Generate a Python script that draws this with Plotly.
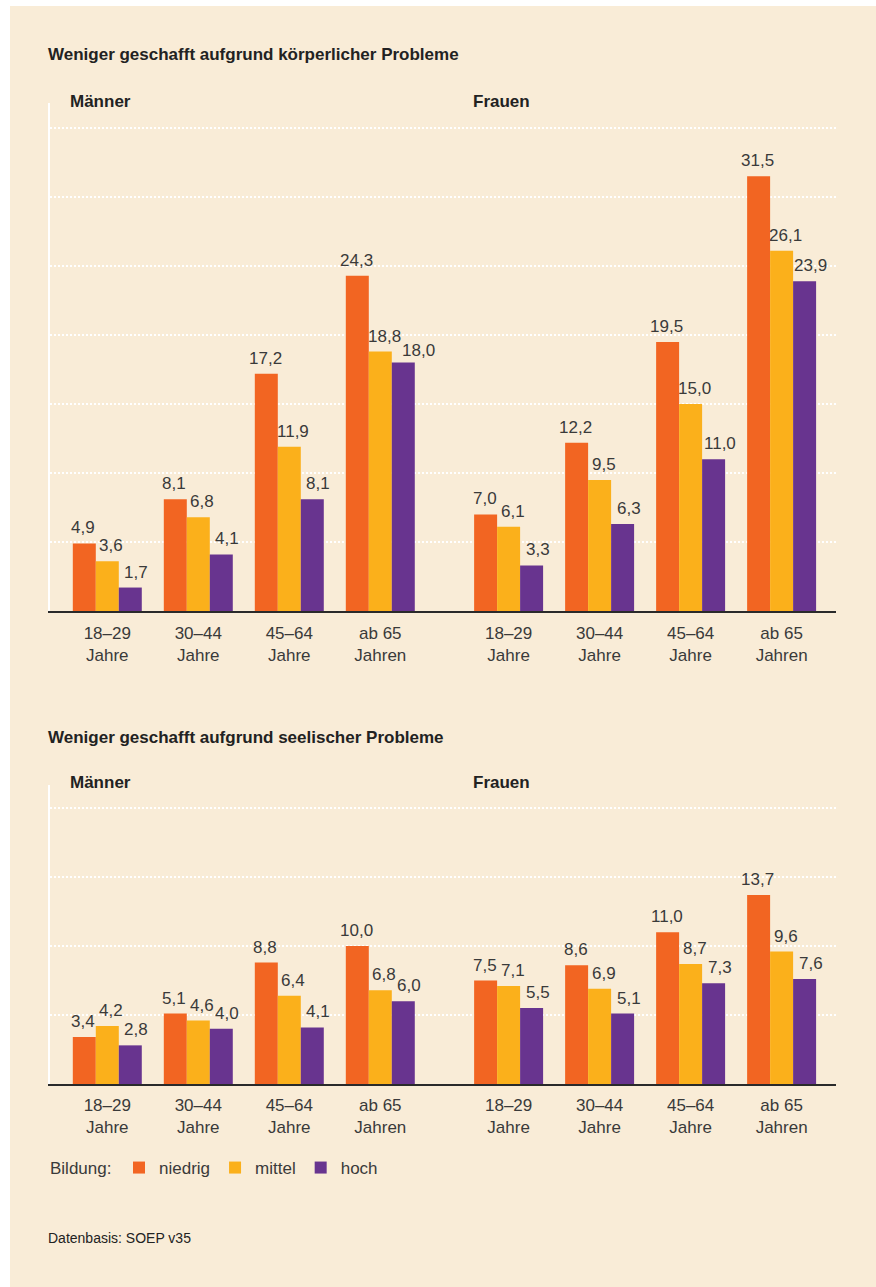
import plotly.graph_objects as go

# ---- data ----
age_groups = ["18–29<br>Jahre", "30–44<br>Jahre", "45–64<br>Jahre", "ab 65<br>Jahren"]
series_names = ["niedrig", "mittel", "hoch"]

# Panel 1: körperliche Probleme
koerper_maenner_niedrig = [4.9, 8.1, 17.2, 24.3]
koerper_maenner_mittel = [3.6, 6.8, 11.9, 18.8]
koerper_maenner_hoch = [1.7, 4.1, 8.1, 18.0]
koerper_frauen_niedrig = [7.0, 12.2, 19.5, 31.5]
koerper_frauen_mittel = [6.1, 9.5, 15.0, 26.1]
koerper_frauen_hoch = [3.3, 6.3, 11.0, 23.9]

# Panel 2: seelische Probleme
seele_maenner_niedrig = [3.4, 5.1, 8.8, 10.0]
seele_maenner_mittel = [4.2, 4.6, 6.4, 6.8]
seele_maenner_hoch = [2.8, 4.0, 4.1, 6.0]
seele_frauen_niedrig = [7.5, 8.6, 11.0, 13.7]
seele_frauen_mittel = [7.1, 6.9, 8.7, 9.6]
seele_frauen_hoch = [5.5, 5.1, 7.3, 7.6]

titles = ["Weniger geschafft aufgrund körperlicher Probleme",
          "Weniger geschafft aufgrund seelischer Probleme"]
sex_labels = ["Männer", "Frauen"]
legend_title = "Bildung:"
source = "Datenbasis: SOEP v35"

# ---- style ----
colors = ["#F26522", "#FBB01B", "#68348F"]
BG = "#F9ECD7"
TXT = "#3a3a3a"
FONT = "Liberation Sans, Arial, sans-serif"

W, H = 876, 1287

GROUP_GAP = 0.41
positions = [i for i in range(4)] + [4 + GROUP_GAP + i for i in range(4)]
BARGAP = 0.242
bar_w = (1 - BARGAP) / 3

panels = [
    [koerper_maenner_niedrig + koerper_frauen_niedrig,
     koerper_maenner_mittel + koerper_frauen_mittel,
     koerper_maenner_hoch + koerper_frauen_hoch],
    [seele_maenner_niedrig + seele_frauen_niedrig,
     seele_maenner_mittel + seele_frauen_mittel,
     seele_maenner_hoch + seele_frauen_hoch],
]

# label nudges (pixels) to keep neighbouring value labels apart
series_dx = [-1, 4, 6]
special_nudge = {(0, 2, 3): (9, -3)}  # (panel, series, position index)

# pixel layout
px_per_unit = 13.8
x_left, x_right = 50, 836
panel_px = [(103, 611), (785, 1084)]
title_y = [55, 737]
sex_y = [101, 782]
sex_x = [68, 471]

def pxx(p):
    return p / W

def pxy(p):
    return 1 - p / H

fig = go.Figure()
annotations = []
for pi, series in enumerate(panels):
    xa = "x" if pi == 0 else "x2"
    ya = "y" if pi == 0 else "y2"
    for si, vals in enumerate(series):
        fig.add_trace(go.Bar(
            x=positions, y=vals, name=series_names[si],
            marker=dict(color=colors[si], line=dict(width=0)),
            xaxis=xa, yaxis=ya, showlegend=(pi == 0),
            offsetgroup=str(si), hoverinfo="skip",
        ))
        for k, (xp, v) in enumerate(zip(positions, vals)):
            dx, dy = special_nudge.get((pi, si, k), (0, 0))
            annotations.append(dict(
                x=xp + (si - 1) * bar_w, y=v, xref=xa, yref=ya,
                text=f"{v:.1f}".replace(".", ","), showarrow=False,
                yanchor="bottom", xanchor="center",
                xshift=series_dx[si] + dx, yshift=4 + dy,
                font=dict(size=17, color=TXT, family=FONT)))
    annotations.append(dict(
        x=pxx(46), y=pxy(title_y[pi]), xref="paper", yref="paper",
        text=f"<b>{titles[pi]}</b>", showarrow=False, xanchor="left",
        yanchor="middle", font=dict(size=17, color="#222", family=FONT)))
    for k in range(2):
        annotations.append(dict(
            x=pxx(sex_x[k]), y=pxy(sex_y[pi]), xref="paper", yref="paper",
            text=f"<b>{sex_labels[k]}</b>", showarrow=False, xanchor="left",
            yanchor="middle", font=dict(size=17, color="#222", family=FONT)))

annotations.append(dict(
    x=pxx(48), y=pxy(1168), xref="paper", yref="paper", text=legend_title,
    showarrow=False, xanchor="left", yanchor="middle",
    font=dict(size=17, color=TXT, family=FONT)))
annotations.append(dict(
    x=pxx(46), y=pxy(1238), xref="paper", yref="paper", text=source,
    showarrow=False, xanchor="left", yanchor="middle",
    font=dict(size=14, color="#222", family=FONT)))

xdom = [pxx(x_left), pxx(x_right)]
rng_x = [(x_left - 107.3) / 91.0, (x_right - 107.3) / 91.0]

def xaxis_cfg(anchor, standoff):
    return dict(domain=xdom, range=rng_x, anchor=anchor,
                tickvals=positions, ticktext=age_groups * 2,
                showgrid=False, zeroline=False, showline=True,
                linecolor="#2a2a2a", linewidth=1.5, ticks="",
                ticklabelstandoff=standoff,
                tickfont=dict(size=17, color=TXT, family=FONT),
                fixedrange=True)

def yaxis_cfg(pi, anchor):
    top, bot = panel_px[pi]
    return dict(domain=[pxy(bot), pxy(top)], range=[0, (bot - top) / px_per_unit],
                anchor=anchor, showticklabels=False, ticks="",
                showgrid=True, gridcolor="white", gridwidth=2,
                griddash="2px,2px", dtick=5, zeroline=False,
                showline=True, linecolor="white", linewidth=2,
                fixedrange=True)

fig.update_layout(
    width=W, height=H,
    margin=dict(l=0, r=0, t=0, b=0),
    paper_bgcolor="white", plot_bgcolor="rgba(0,0,0,0)",
    barmode="group", bargap=BARGAP, bargroupgap=0,
    xaxis=xaxis_cfg("y", 6), yaxis=yaxis_cfg(0, "x"),
    xaxis2=xaxis_cfg("y2", 5), yaxis2=yaxis_cfg(1, "x2"),
    annotations=annotations,
    legend=dict(orientation="h", x=pxx(133 - 14), y=pxy(1168),
                xanchor="left", yanchor="middle", bgcolor="rgba(0,0,0,0)",
                font=dict(size=17, color=TXT, family=FONT),
                traceorder="normal", itemclick=False, itemdoubleclick=False),
    shapes=[dict(type="rect", xref="paper", yref="paper",
                 x0=pxx(10), x1=1, y0=0, y1=pxy(6),
                 fillcolor=BG, line=dict(width=0), layer="below")],
    font=dict(family=FONT),
)

fig.write_html(
    "out.html",
    config={"displayModeBar": False},
    post_script="document.body.style.margin='0';document.body.style.overflow='hidden';",
)
